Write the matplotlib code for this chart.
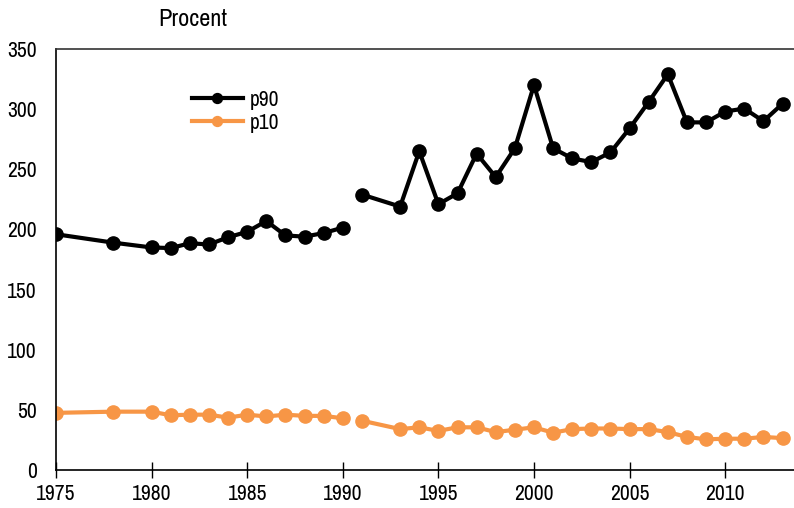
import matplotlib
matplotlib.use("Agg")
import matplotlib.pyplot as plt
import numpy as np

plt.rcParams['font.family'] = ['Archivo Narrow', 'DejaVu Sans']

# years with data (gap between 1990 and 1991 is a break in the series)
years_a = [1975, 1978, 1980, 1981, 1982, 1983, 1984, 1985, 1986, 1987, 1988, 1989, 1990]
years_b = [1991, 1993, 1994, 1995, 1996, 1997, 1998, 1999, 2000, 2001, 2002, 2003,
           2004, 2005, 2006, 2007, 2008, 2009, 2010, 2011, 2012, 2013]

p90_a = [196, 189, 185, 184.5, 188.5, 187.5, 193.5, 198, 207, 195, 194, 197, 201.5]
p90_b = [229, 219, 265, 221, 230, 263, 243.5, 267.5, 320, 267.5, 259, 256,
         264, 284, 306, 329, 289, 289, 298, 300.5, 290, 304.5]

p10_a = [47.5, 48.5, 48.5, 45.5, 46, 46, 43.5, 46, 44.5, 46, 45, 45, 43]
p10_b = [41, 34, 35.5, 32.5, 35.5, 35.5, 31.5, 33.5, 35.5, 31, 34, 34.5,
         34.5, 34, 34, 31.5, 27.5, 25.5, 26, 26, 27.5, 26.5]

black = '#000000'
orange = '#F79646'

fig = plt.figure(figsize=(7.94, 5.08), dpi=100)
ax = fig.add_axes([56/794, 38/508, 1 - 56/794, 421/508])

ax.plot(years_a, p90_a, color=black, lw=3, marker='o', ms=9.5, label='p90')
ax.plot(years_b, p90_b, color=black, lw=3, marker='o', ms=9.5)
ax.plot(years_a, p10_a, color=orange, lw=3, marker='o', ms=9.5, label='p10')
ax.plot(years_b, p10_b, color=orange, lw=3, marker='o', ms=9.5)

ax.set_xlim(1975, 2013.6)
ax.set_ylim(0, 350)
ax.set_xticks(np.arange(1975, 2014, 5))
ax.set_yticks(np.arange(0, 351, 50))
ax.tick_params(axis='x', direction='inout', length=12, width=1, labelsize=15.5, pad=4)
ax.tick_params(axis='y', length=0, labelsize=15.5, pad=14)
ax.spines['right'].set_visible(False)
ax.spines['top'].set_color('#333333')
for s in ax.spines.values():
    s.set_linewidth(1.2)

fig.text(193/794, 1 - 20/508, 'Procent', ha='center', va='center', fontsize=17.5)

leg = ax.legend(loc='upper left', bbox_to_anchor=(183/794, 1 - 81/508),
                bbox_transform=fig.transFigure, frameon=False, fontsize=15.5,
                handlelength=2.4, handletextpad=0.3, labelspacing=0.15,
                markerscale=0.75, borderaxespad=0)

fig.savefig('out.png', dpi=100)
plt.close()
